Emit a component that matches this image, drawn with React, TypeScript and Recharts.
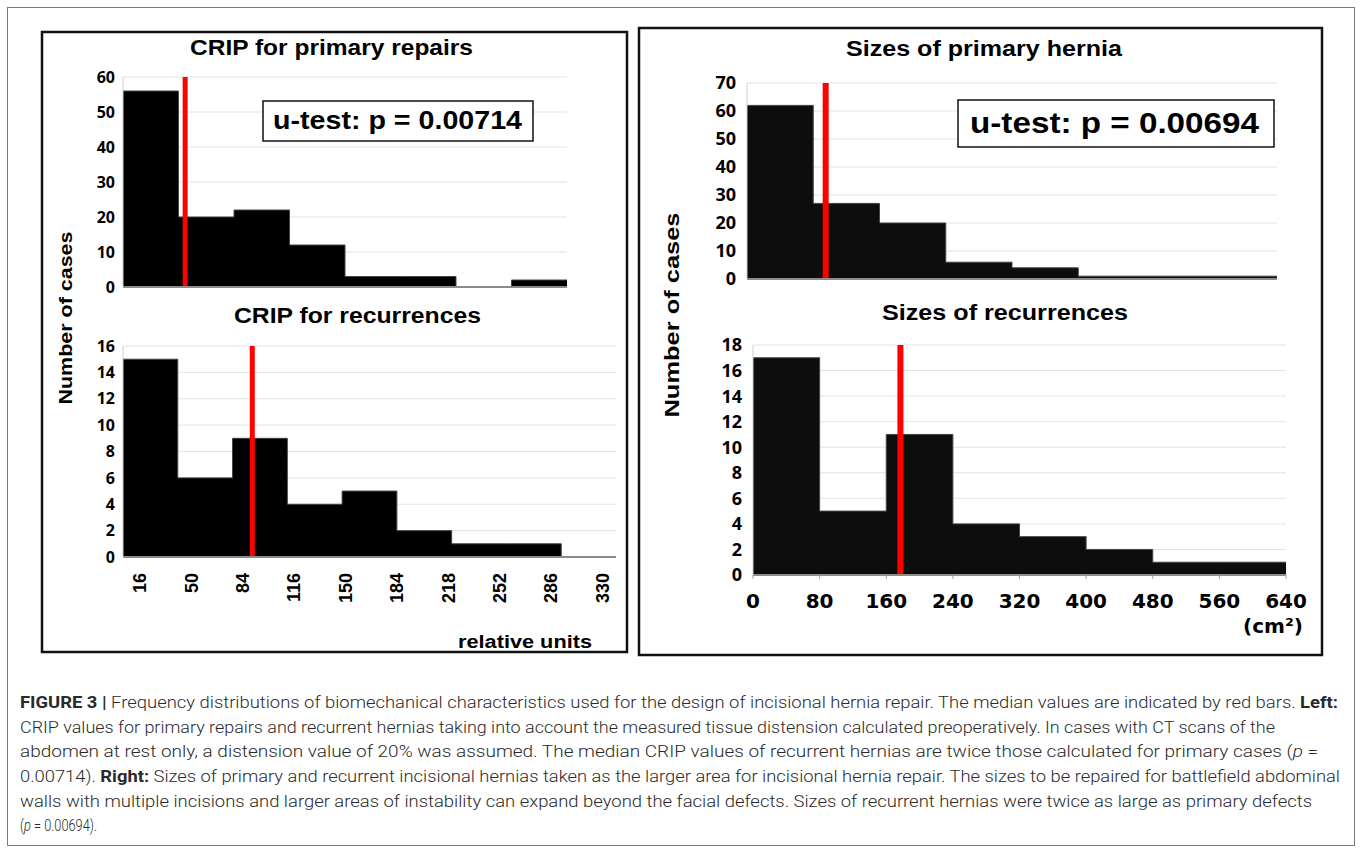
import React from "react";
import { ComposedChart, Area, XAxis, YAxis, CartesianGrid, ReferenceLine } from "recharts";

// Left panel: CRIP in relative units, bins are indexed (edges are not evenly spaced)
const cripEdgeLabels = ["16", "50", "84", "116", "150", "184", "218", "252", "286", "330"];
const cripPrimary = [56, 20, 22, 12, 3, 3, 0, 2];
const cripRecurrent = [15, 6, 9, 4, 5, 2, 1, 1, 0];
const cripPrimaryMedian = 1.12; // position in bins
const cripRecurrentMedian = 2.36;
const cripPrimaryYTicks = [0, 10, 20, 30, 40, 50, 60];
const cripRecurrentYTicks = [0, 2, 4, 6, 8, 10, 12, 14, 16];

// Right panel: hernia sizes in cm²
const sizeEdges = [0, 80, 160, 240, 320, 400, 480, 560, 640];
const sizePrimary = [62, 27, 20, 6, 4, 1, 1, 1];
const sizeRecurrent = [17, 5, 11, 4, 3, 2, 1, 1];
const sizePrimaryMedian = 95;
const sizeRecurrentMedian = 177;
const sizePrimaryYTicks = [0, 10, 20, 30, 40, 50, 60, 70];
const sizeRecurrentYTicks = [0, 2, 4, 6, 8, 10, 12, 14, 16, 18];

const ARIAL = "'Liberation Sans', Arial, sans-serif";
const YW = 60;
const MT = 20;
const MR = 30;
const MB = 12;

type TickProps = { x?: number; y?: number; payload?: { value: number } };

function CripTick({ x = 0, y = 0, payload }: TickProps) {
  const label = cripEdgeLabels[payload ? payload.value : 0];
  return (
    <g transform={`translate(${x},${y + 10})`}>
      <text transform="rotate(-90)" textAnchor="end" dy="0.36em" fontFamily={ARIAL} fontWeight={700} fontSize={18} fill="#000">
        {label}
      </text>
    </g>
  );
}

function SizeTick({ x = 0, y = 0, payload }: TickProps) {
  return (
    <text x={x} y={y + 27} textAnchor="middle" fontFamily="'DejaVu Sans', Verdana, sans-serif" fontWeight={700} fontSize={20} fill="#000">
      {payload ? payload.value : ""}
    </text>
  );
}

interface HistProps {
  plotLeft: number;
  plotTop: number;
  plotW: number;
  plotH: number;
  counts: number[];
  yTicks: number[];
  edges: number[];
  median: number;
  redWidth: number;
  yFontSize: number;
  yGap: number;
  fill: string;
  xHeight: number;
  xTick?: React.ReactElement | false;
  rotatedLabels?: boolean;
}

function Hist(p: HistProps) {
  const n = p.counts.length;
  // step series: one point per bin edge, last edge repeats the last count
  const data = p.edges.map((x, i) => ({ x, count: p.counts[Math.min(i, n - 1)] }));
  const extraH = p.rotatedLabels ? 50 : 0;
  const width = YW + p.plotW + MR;
  const height = MT + p.plotH + p.xHeight + extraH + MB;
  const lblTicks = cripEdgeLabels.map((_, i) => i);
  return (
    <div style={{ position: "absolute", left: p.plotLeft - YW, top: p.plotTop - MT, width, height }}>
      <ComposedChart width={width} height={height} data={data} margin={{ top: MT, right: MR, bottom: MB, left: 0 }}>
        <CartesianGrid vertical={false} stroke="#e2e2e2" xAxisId="edge" />
        <XAxis
          xAxisId="edge"
          dataKey="x"
          type="number"
          domain={["dataMin", "dataMax"]}
          ticks={p.edges}
          interval={0}
          height={p.xHeight}
          axisLine={{ stroke: "#8c8c8c", strokeWidth: 2 }}
          tickLine={{ stroke: "#a0a0a0" }}
          tickSize={4}
          tick={p.xTick === undefined ? false : p.xTick}
        />
        {p.rotatedLabels && (
          <XAxis
            xAxisId="lbl"
            dataKey="x"
            type="number"
            domain={[-0.33, 9.27]}
            ticks={lblTicks}
            interval={0}
            allowDataOverflow
            height={extraH}
            axisLine={false}
            tickLine={false}
            tickSize={0}
            tickMargin={0}
            tick={<CripTick />}
          />
        )}
        <YAxis
          type="number"
          domain={[0, p.yTicks[p.yTicks.length - 1]]}
          ticks={p.yTicks}
          interval={0}
          width={YW}
          tickLine={false}
          tickSize={0}
          tickMargin={p.yGap}
          axisLine={{ stroke: "#cfcfcf" }}
          tick={{ fontFamily: "'Open Sans', sans-serif", fontWeight: 700, fontSize: p.yFontSize, fill: "#000" }}
        />
        <Area
          xAxisId="edge"
          type="stepAfter"
          dataKey="count"
          fill={p.fill}
          fillOpacity={1}
          stroke="#444"
          strokeWidth={1}
          dot={false}
          activeDot={false}
          isAnimationActive={false}
        />
        <ReferenceLine xAxisId="edge" x={p.median} stroke="#ff0000" strokeWidth={p.redWidth} />
      </ComposedChart>
    </div>
  );
}

interface TProps {
  x: number;
  y: number;
  len?: number;
  size: number;
  weight?: number;
  family?: string;
  anchor?: "start" | "middle" | "end";
  rotate?: boolean;
  fill?: string;
  children: React.ReactNode;
}

function T({ x, y, len, size, weight = 700, family = ARIAL, anchor = "start", rotate, fill = "#000", children }: TProps) {
  const fit = len ? { textLength: len, lengthAdjust: "spacingAndGlyphs" as const } : {};
  if (rotate) {
    return (
      <text transform={`translate(${x},${y}) rotate(-90)`} textAnchor="middle" dy="0.35em" fontFamily={family} fontWeight={weight} fontSize={size} fill={fill} {...fit}>
        {children}
      </text>
    );
  }
  return (
    <text x={x} y={y} textAnchor={anchor} fontFamily={family} fontWeight={weight} fontSize={size} fill={fill} {...fit}>
      {children}
    </text>
  );
}

const CAP = "Roboto, 'Liberation Sans', sans-serif";

export default function App() {
  const cripIdxTop = [...cripPrimary.map((_, i) => i), cripPrimary.length];
  const cripIdxBottom = [...cripRecurrent.map((_, i) => i), cripRecurrent.length];
  return (
    <div style={{ position: "absolute", left: 0, top: 0, width: 1360, height: 849, background: "#fff", overflow: "hidden" }}>
      <Hist plotLeft={123} plotTop={77} plotW={444} plotH={210} counts={cripPrimary} yTicks={cripPrimaryYTicks} edges={cripIdxTop} median={cripPrimaryMedian} redWidth={5} yFontSize={16} yGap={8} fill="#000" xHeight={6} />
      <Hist plotLeft={123} plotTop={346} plotW={493} plotH={211} counts={cripRecurrent} yTicks={cripRecurrentYTicks} edges={cripIdxBottom} median={cripRecurrentMedian} redWidth={5} yFontSize={16} yGap={8} fill="#000" xHeight={6} rotatedLabels />
      <Hist plotLeft={747} plotTop={83} plotW={530} plotH={196} counts={sizePrimary} yTicks={sizePrimaryYTicks} edges={sizeEdges} median={sizePrimaryMedian} redWidth={6} yFontSize={18} yGap={11} fill="#0d0d0d" xHeight={6} />
      <Hist plotLeft={753} plotTop={345} plotW={533} plotH={230} counts={sizeRecurrent} yTicks={sizeRecurrentYTicks} edges={sizeEdges} median={sizeRecurrentMedian} redWidth={6} yFontSize={18} yGap={11} fill="#0d0d0d" xHeight={40} xTick={<SizeTick />} />

      <svg width={1360} height={849} style={{ position: "absolute", left: 0, top: 0, pointerEvents: "none" }}>
        <rect x={7.5} y={7.5} width={1347} height={838} fill="none" stroke="#7a7a7a" strokeWidth={1} />
        <rect x={42} y={32} width={585} height={620} fill="none" stroke="#111" strokeWidth={2.5} />
        <rect x={639} y={28} width={683} height={627} fill="none" stroke="#111" strokeWidth={2.5} />

        <T x={190} y={55} len={283} size={22}>CRIP for primary repairs</T>
        <T x={234} y={323} len={247} size={22}>CRIP for recurrences</T>
        <T x={846} y={56} len={276} size={22}>Sizes of primary hernia</T>
        <T x={882} y={320} len={246} size={22}>Sizes of recurrences</T>

        <rect x={263} y={101} width={270} height={40} fill="#fff" stroke="#111" strokeWidth={1.5} />
        <T x={273} y={129} len={249} size={25}>u-test: p = 0.00714</T>
        <rect x={958} y={100} width={316} height={47} fill="#fff" stroke="#111" strokeWidth={1.5} />
        <T x={970} y={133} len={289} size={29}>u-test: p = 0.00694</T>

        <T x={65} y={318} len={173} size={19} rotate>Number of cases</T>
        <T x={672} y={315} len={205} size={21} rotate>Number of cases</T>

        <T x={458} y={648} len={134} size={18}>relative units</T>
        <T x={1243} y={633} len={60} size={20} family="'DejaVu Sans', Verdana, sans-serif">(cm²)</T>

        <T x={20} y={708} len={1318} size={16} weight={300} family={CAP} fill="#2a2a2a">
          <tspan fontWeight={700}>FIGURE 3 |</tspan> Frequency distributions of biomechanical characteristics used for the design of incisional hernia repair. The median values are indicated by red bars. <tspan fontWeight={700}>Left:</tspan>
        </T>
        <T x={20} y={733} len={1255} size={16} weight={300} family={CAP} fill="#2a2a2a">
          CRIP values for primary repairs and recurrent hernias taking into account the measured tissue distension calculated preoperatively. In cases with CT scans of the
        </T>
        <T x={20} y={757} len={1298} size={16} weight={300} family={CAP} fill="#2a2a2a">
          abdomen at rest only, a distension value of 20% was assumed. The median CRIP values of recurrent hernias are twice those calculated for primary cases (<tspan fontStyle="italic">p</tspan> =
        </T>
        <T x={20} y={782} len={1320} size={16} weight={300} family={CAP} fill="#2a2a2a">
          0.00714). <tspan fontWeight={700}>Right:</tspan> Sizes of primary and recurrent incisional hernias taken as the larger area for incisional hernia repair. The sizes to be repaired for battlefield abdominal
        </T>
        <T x={20} y={807} len={1292} size={16} weight={300} family={CAP} fill="#2a2a2a">
          walls with multiple incisions and larger areas of instability can expand beyond the facial defects. Sizes of recurrent hernias were twice as large as primary defects
        </T>
        <T x={20} y={831} len={77} size={16} weight={300} family={CAP} fill="#2a2a2a">
          (<tspan fontStyle="italic">p</tspan> = 0.00694).
        </T>
      </svg>
    </div>
  );
}
